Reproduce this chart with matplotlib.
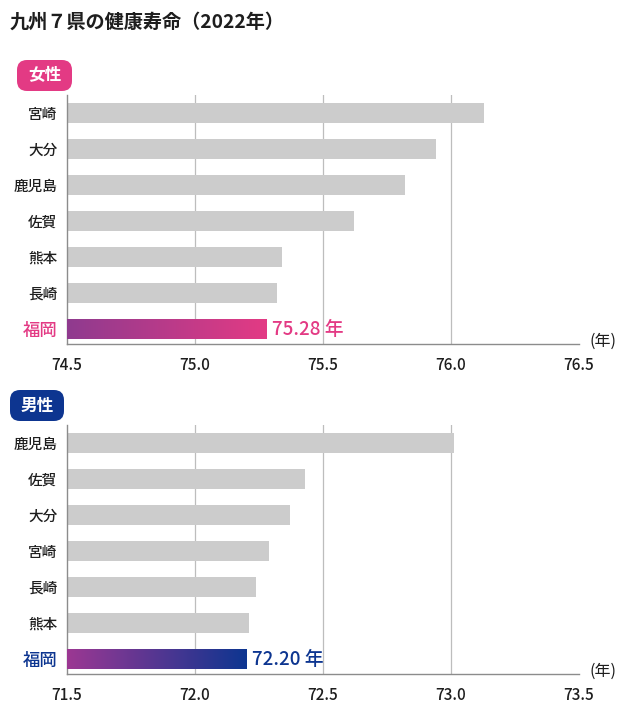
import numpy as np
import matplotlib
matplotlib.use("Agg")
import matplotlib.pyplot as plt
from matplotlib.colors import LinearSegmentedColormap
from matplotlib.patches import FancyBboxPatch

plt.rcParams["font.family"] = ["Noto Sans CJK JP", "DejaVu Sans"]

# data
title = "九州７県の健康寿命（2022年）"

female_prefs = ["宮崎", "大分", "鹿児島", "佐賀", "熊本", "長崎", "福岡"]
female_values = [76.13, 75.94, 75.82, 75.62, 75.34, 75.32, 75.28]
female_ticks = [74.5, 75.0, 75.5, 76.0, 76.5]

male_prefs = ["鹿児島", "佐賀", "大分", "宮崎", "長崎", "熊本", "福岡"]
male_values = [73.01, 72.43, 72.37, 72.29, 72.24, 72.21, 72.20]
male_ticks = [71.5, 72.0, 72.5, 73.0, 73.5]

W, H = 635, 708
PINK = "#e33a84"
NAVY = "#0d3590"
GRAY_BAR = "#cccccc"
TEXT = "#1e1e1e"

fig = plt.figure(figsize=(W / 100, H / 100), dpi=100)


def px_axes(left, top, right, bottom):
    return fig.add_axes([left / W, 1 - bottom / H, (right - left) / W, (bottom - top) / H])


def badge(x0, y0, x1, y1, text, color):
    # rounded label box, in pixel coordinates from the top-left
    box = FancyBboxPatch((x0 / 100, (H - y1) / 100), (x1 - x0) / 100, (y1 - y0) / 100,
                         boxstyle="round,pad=0,rounding_size=0.1",
                         transform=fig.dpi_scale_trans, facecolor=color, edgecolor="none")
    fig.add_artist(box)
    fig.text((x0 + x1) / 2 / W, 1 - (y0 + y1) / 2 / H, text, color="white",
             fontsize=12, fontweight="bold", ha="center", va="center")


def draw_panel(ax, prefs, values, ticks, color, grad_start, unit_label):
    n = len(prefs)
    y = np.arange(n)
    bar_h = 0.555
    lo, hi = ticks[0], ticks[-1]

    # gray bars for all but the highlighted last one
    ax.barh(y[:-1], np.array(values[:-1]) - lo, left=lo, height=bar_h,
            color=GRAY_BAR, zorder=2)

    # gradient bar for 福岡
    cmap = LinearSegmentedColormap.from_list("g", [grad_start, color])
    grad = np.linspace(0, 1, 256).reshape(1, -1)
    ax.imshow(grad, cmap=cmap, aspect="auto", zorder=3,
              extent=[lo, values[-1], y[-1] + bar_h / 2, y[-1] - bar_h / 2])
    ax.text(values[-1] + 0.022, y[-1] + 0.02, f"{values[-1]:.2f} 年", color=color,
            fontsize=13.5, fontweight=500, va="center", ha="left", zorder=4)

    ax.set_xlim(lo, hi)
    ax.set_ylim(n - 0.59, -0.51)
    ax.set_xticks(ticks)
    ax.set_xticklabels([f"{t:.1f}" for t in ticks], fontweight=500)
    ax.set_yticks(y)
    ax.set_yticklabels(prefs, fontweight=500)

    for t in ticks[1:-1]:
        ax.axvline(t, color="#bdbdbd", lw=0.9, zorder=1)

    for side in ["top", "right"]:
        ax.spines[side].set_visible(False)
    ax.spines["left"].set_color("#8c8c8c")
    ax.spines["bottom"].set_color("#8c8c8c")
    ax.spines["left"].set_linewidth(1.0)
    ax.spines["bottom"].set_linewidth(1.0)
    ax.tick_params(axis="x", length=0, pad=9, labelsize=11, labelcolor=TEXT)
    ax.tick_params(axis="y", length=0, pad=7, labelsize=10.5, labelcolor=TEXT)
    hl = ax.get_yticklabels()[-1]
    hl.set_color(color)
    hl.set_fontsize(12.5)

    ax.text(1.02, 0.01, unit_label, transform=ax.transAxes, fontsize=11.5,
            color=TEXT, ha="left", va="center")


fig.text(10 / W, 1 - 22 / H, title, fontsize=13.8, fontweight="bold",
         ha="left", va="center", color=TEXT)

badge(17, 60, 72, 91, "女性", PINK)
ax1 = px_axes(67, 95, 579, 344)
draw_panel(ax1, female_prefs, female_values, female_ticks, PINK, "#8f3b8f", "(年)")

badge(10, 390, 64, 421, "男性", NAVY)
ax2 = px_axes(67, 425, 579, 674)
draw_panel(ax2, male_prefs, male_values, male_ticks, NAVY, "#9c3893", "(年)")

fig.savefig("out.png", dpi=100)
